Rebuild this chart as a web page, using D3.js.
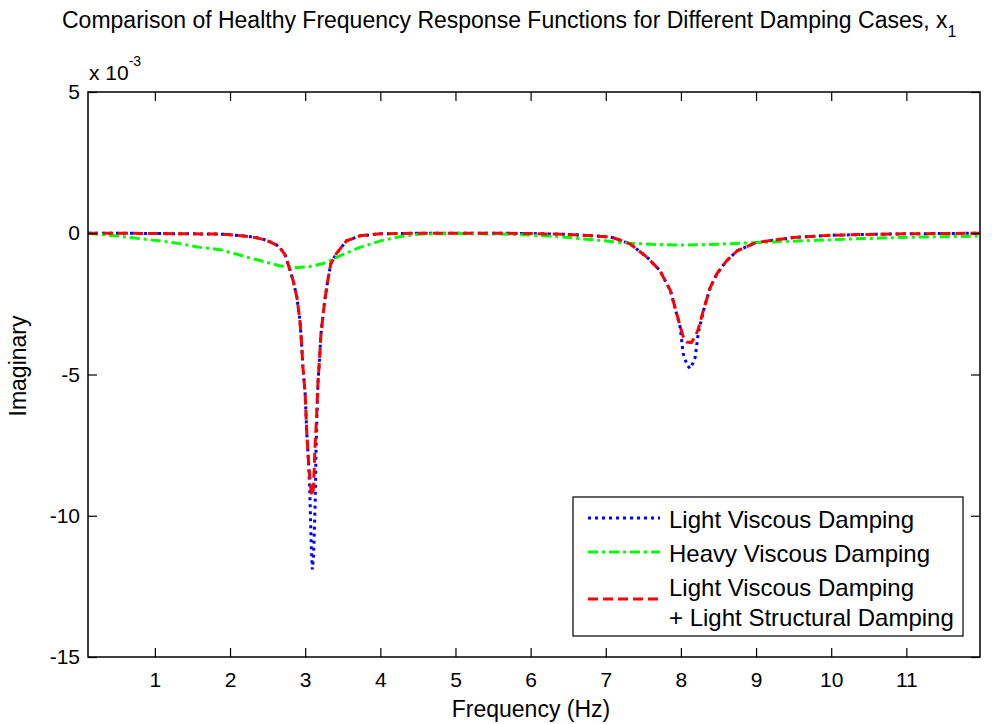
<!DOCTYPE html>
<html>
<head>
<meta charset="utf-8">
<script src="https://cdn.jsdelivr.net/npm/d3@7"></script>
<style>
  body { margin: 0; background: #fff; }
  text { font-family: "Liberation Sans", Arial, sans-serif; fill: #000; }
</style>
</head>
<body>
<svg id="chart"></svg>
<script>
// values, in units of 1e-3
var lightViscous = [
  [0.11,0],[0.5,0],[1.0,-0.01],[1.5,-0.02],[1.87,-0.03],[2.0,-0.05],[2.27,-0.12],[2.4,-0.18],
  [2.5,-0.26],[2.6,-0.38],[2.66,-0.5],[2.73,-0.74],[2.78,-1.15],[2.84,-1.68],[2.89,-2.27],
  [2.93,-3.09],[2.95,-3.8],[2.97,-4.74],[3.0,-5.7],[3.02,-7.0],[3.04,-7.9],[3.06,-9.0],
  [3.08,-11.0],[3.095,-11.9],[3.11,-11.5],[3.125,-10.3],[3.135,-9.3],[3.145,-7.6],[3.16,-6.2],
  [3.17,-5.3],[3.19,-4.5],[3.21,-3.56],[3.26,-2.39],[3.3,-1.68],[3.34,-1.09],[3.41,-0.74],
  [3.55,-0.27],[3.73,-0.09],[4.0,-0.02],[4.5,0],[5.0,0],[5.5,0],[6.0,-0.01],[6.5,-0.04],
  [7.0,-0.12],[7.1,-0.16],[7.32,-0.37],[7.55,-0.85],[7.72,-1.32],[7.86,-2.03],[7.95,-2.92],
  [7.99,-3.33],[8.03,-4.26],[8.08,-4.65],[8.12,-4.79],[8.16,-4.6],[8.19,-4.39],[8.23,-3.55],
  [8.3,-2.74],[8.39,-1.92],[8.48,-1.43],[8.61,-0.97],[8.75,-0.62],[9.0,-0.33],[9.5,-0.15],
  [10.0,-0.07],[10.5,-0.04],[11.0,-0.02],[11.5,-0.01],[11.98,0]
];

var heavyViscous = [
  [0.11,0],[0.5,-0.1],[0.93,-0.23],[1.3,-0.35],[1.6,-0.5],[1.87,-0.58],[2.27,-0.88],
  [2.66,-1.15],[2.89,-1.21],[3.06,-1.18],[3.24,-1.07],[3.33,-0.97],[3.46,-0.8],[3.73,-0.5],
  [4.0,-0.27],[4.26,-0.12],[4.53,-0.03],[5.0,-0.01],[5.6,-0.03],[6.0,-0.06],[6.5,-0.15],
  [6.9,-0.25],[7.3,-0.35],[7.7,-0.4],[8.0,-0.42],[8.4,-0.4],[8.8,-0.35],[9.3,-0.3],
  [9.8,-0.25],[10.3,-0.2],[10.9,-0.15],[11.5,-0.12],[11.98,-0.1]
];

var lightViscousStructural = [
  [0.11,0],[0.5,0],[1.0,-0.01],[1.5,-0.02],[1.87,-0.03],[2.0,-0.05],[2.27,-0.12],[2.4,-0.19],
  [2.5,-0.27],[2.6,-0.39],[2.66,-0.51],[2.73,-0.75],[2.78,-1.15],[2.84,-1.68],[2.89,-2.27],
  [2.93,-3.09],[2.95,-3.8],[2.97,-4.74],[3.0,-5.7],[3.02,-7.0],[3.04,-7.9],[3.06,-8.6],
  [3.08,-9.15],[3.095,-9.3],[3.11,-9.0],[3.12,-8.4],[3.13,-7.6],[3.15,-6.6],[3.17,-5.3],
  [3.19,-4.5],[3.21,-3.56],[3.26,-2.39],[3.3,-1.68],[3.34,-1.09],[3.41,-0.74],[3.55,-0.27],
  [3.73,-0.09],[4.0,-0.02],[4.5,0],[5.0,0],[5.5,0],[6.0,-0.01],[6.5,-0.04],[7.0,-0.12],
  [7.1,-0.16],[7.32,-0.37],[7.55,-0.85],[7.72,-1.32],[7.86,-2.03],[7.95,-2.9],[7.99,-3.3],
  [8.03,-3.65],[8.08,-3.85],[8.14,-3.87],[8.19,-3.65],[8.23,-3.4],[8.3,-2.72],[8.39,-1.92],
  [8.48,-1.43],[8.61,-0.97],[8.75,-0.62],[9.0,-0.33],[9.5,-0.15],[10.0,-0.07],[10.5,-0.04],
  [11.0,-0.02],[11.5,-0.01],[11.98,0]
];

var xTicks = [1,2,3,4,5,6,7,8,9,10,11];
var yTicks = [5,0,-5,-10,-15];
var seriesLabels = [
  ["Light Viscous Damping"],
  ["Heavy Viscous Damping"],
  ["Light Viscous Damping", "+ Light Structural Damping"]
];

var W = 996, H = 724;
// plot box (named so they don't clash with window.top etc)
var boxL = 88, boxR = 980, boxT = 92, boxB = 657;

var svg = d3.select("#chart").attr("width", W).attr("height", H);

var x = d3.scaleLinear().domain([0.11, 11.98]).range([boxL, boxR]);
var y = d3.scaleLinear().domain([-15, 5]).range([boxB, boxT]);

svg.append("clipPath").attr("id", "clip")
  .append("rect")
  .attr("x", boxL).attr("y", boxT)
  .attr("width", boxR - boxL).attr("height", boxB - boxT);

var line = d3.line()
  .x(function(d){ return x(d[0]); })
  .y(function(d){ return y(d[1]); });

var styles = [
  {color: "#0000ff", dash: "3,4"},
  {color: "#00ff00", dash: "10,4,3,4"},
  {color: "#ff0000", dash: "10,5"}
];
var allSeries = [lightViscous, heavyViscous, lightViscousStructural];

var plot = svg.append("g").attr("clip-path", "url(#clip)");
allSeries.forEach(function(s, i){
  plot.append("path")
    .datum(s)
    .attr("d", line)
    .attr("fill", "none")
    .attr("stroke", styles[i].color)
    .attr("stroke-width", 3)
    .attr("stroke-dasharray", styles[i].dash);
});

// axes, ticks pointing inward
svg.append("g")
  .attr("transform", "translate(0," + boxB + ")")
  .call(d3.axisBottom(x).tickValues(xTicks).tickSize(-9).tickPadding(15)
        .tickFormat(function(d){ return String(d); }));
svg.append("g")
  .attr("transform", "translate(0," + boxT + ")")
  .call(d3.axisTop(x).tickValues(xTicks).tickSize(-9).tickFormat(""));
svg.append("g")
  .attr("transform", "translate(" + boxL + ",0)")
  .call(d3.axisLeft(y).tickValues(yTicks).tickSize(-9).tickPadding(8)
        .tickFormat(function(d){ return String(d); }));
svg.append("g")
  .attr("transform", "translate(" + boxR + ",0)")
  .call(d3.axisRight(y).tickValues(yTicks).tickSize(-9).tickFormat(""));

svg.selectAll(".domain").remove();
svg.selectAll(".tick line").attr("stroke", "#000").attr("stroke-width", 1.2);
svg.selectAll(".tick text")
  .style("font-size", "21px")
  .style("font-family", "'Liberation Sans', Arial, sans-serif")
  .attr("fill", "#000");

svg.append("rect")
  .attr("x", boxL).attr("y", boxT)
  .attr("width", boxR - boxL).attr("height", boxB - boxT)
  .attr("fill", "none").attr("stroke", "#000").attr("stroke-width", 1.5);

// title
var title = svg.append("text")
  .attr("x", 62).attr("y", 28)
  .style("font-size", "23px");
title.append("tspan").text("Comparison of Healthy Frequency Response Functions for Different Damping Cases, x");
title.append("tspan").attr("dy", 9).style("font-size", "16px").text("1");

// exponent
var expo = svg.append("text").attr("x", 89).attr("y", 80).style("font-size", "21px");
expo.append("tspan").text("x 10");
expo.append("tspan").attr("dy", -14).style("font-size", "14px").text("-3");

svg.append("text")
  .attr("x", 531).attr("y", 717)
  .attr("text-anchor", "middle")
  .style("font-size", "23px")
  .text("Frequency (Hz)");

svg.append("text")
  .attr("transform", "translate(26,366) rotate(-90)")
  .attr("text-anchor", "middle")
  .style("font-size", "23px")
  .text("Imaginary");

// legend
var lg = svg.append("g");
lg.append("rect")
  .attr("x", 573).attr("y", 497)
  .attr("width", 390).attr("height", 139)
  .attr("fill", "#fff").attr("stroke", "#000").attr("stroke-width", 1.2);

var sampleY = [518, 552, 599];
var textY = [[528], [562], [596, 626]];
seriesLabels.forEach(function(lines, i){
  lg.append("line")
    .attr("x1", 588).attr("x2", 660)
    .attr("y1", sampleY[i]).attr("y2", sampleY[i])
    .attr("stroke", styles[i].color)
    .attr("stroke-width", 3)
    .attr("stroke-dasharray", styles[i].dash);
  lines.forEach(function(t, j){
    lg.append("text")
      .attr("x", 669).attr("y", textY[i][j])
      .style("font-size", "24px")
      .text(t);
  });
});
</script>
</body>
</html>
